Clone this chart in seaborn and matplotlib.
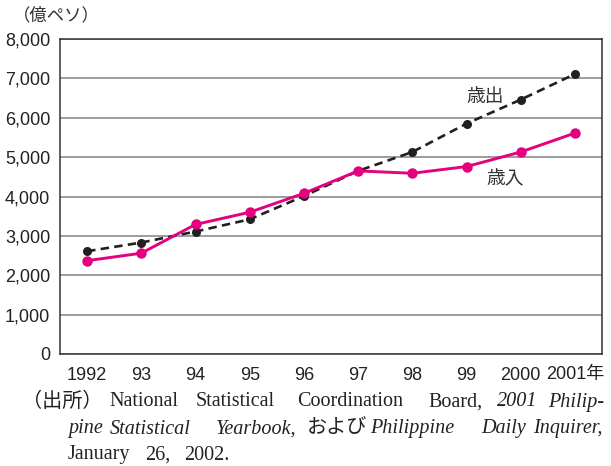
import numpy as np
import pandas as pd
import matplotlib.pyplot as plt
import seaborn as sns
from matplotlib.ticker import FixedLocator, FuncFormatter

# ── data (億ペソ) ────────────────────────────────────────────
years       = ['1992', '93', '94', '95', '96', '97', '98', '99', '2000', '2001年']
expenditure = [2610, 2830, 3110, 3420, 4010, 4650, 5130, 5850, 6460, 7110]   # 歳出
revenue     = [2370, 2560, 3290, 3600, 4080, 4650, 4590, 4760, 5130, 5610]   # 歳入
y_ticks     = [0, 1000, 2000, 3000, 4000, 5000, 6000, 7000, 8000]

sns.set_style('white')
plt.rcParams['font.family'] = ['Liberation Sans', 'Noto Sans CJK JP']

df = pd.DataFrame({'pos': np.arange(len(years)), 'exp': expenditure, 'rev': revenue})

fig = plt.figure(figsize=(6.11, 4.66), dpi=100)
ax = fig.add_axes([60/611, 112/466, 542/611, 315/466])

PINK  = '#E4007F'
BLACK = '#231F20'

ax.set_axisbelow(True)
ax.grid(axis='y', color='#8c8c8c', linewidth=1.2)

sns.lineplot(data=df, x='pos', y='exp', ax=ax, color=BLACK, linewidth=1.9,
             marker='o', markersize=6.5, markeredgewidth=0, zorder=3)
ax.lines[-1].set_dashes([3.2, 2.0])
sns.lineplot(data=df, x='pos', y='rev', ax=ax, color=PINK, linewidth=2.1,
             marker='o', markersize=7.5, markeredgewidth=0, zorder=4)

ax.set_xlim(-0.5, len(years) - 0.5)
ax.set_ylim(0, 8000)
ax.set_yticks(y_ticks)
ax.yaxis.set_major_formatter(FuncFormatter(lambda v, p: f'{int(v):,}'))
ax.set_xticks(df['pos'])
ax.set_xticklabels(years)
ax.xaxis.set_minor_locator(FixedLocator(np.arange(0.5, len(years) - 1, 1.0)))
ax.tick_params(axis='both', which='major', length=0, labelsize=13,
               labelcolor='#222222')
ax.tick_params(axis='y', pad=7)
ax.tick_params(axis='x', pad=9)
ax.tick_params(axis='x', which='minor', direction='in', length=7.5,
               width=1.0, color='#333333')
ax.set_xlabel('')
ax.set_ylabel('')
for s in ax.spines.values():
    s.set_visible(True)
    s.set_color('#333333')
    s.set_linewidth(1.1)

ax.text(7.34, 6550, '歳出', fontsize=13.5, color='#333333', ha='center', va='center',
        family=['Noto Sans CJK JP'])
ax.text(7.71, 4460, '歳入', fontsize=13.5, color='#333333', ha='center', va='center',
        family=['Noto Sans CJK JP'])

fig.text(13/611, 1 - 15/466, '（億ペソ）', fontsize=12.5, color='#333333',
         ha='left', va='center', family=['Noto Sans CJK JP'])

# ── source note ──────────────────────────────────────────────
serif = ['Liberation Serif', 'Noto Sans CJK JP']
fs = 14.5
def put(x, y, s, italic=False):
    fig.text(x/611, 1 - y/466, s, fontsize=fs, color='#222222', ha='left',
             va='center', family=serif, style='italic' if italic else 'normal')

put(22, 402, '（出所）')
for x, w in [(109, 'National'), (196, 'Statistical'), (297, 'Coordination'), (428, 'Board,')]:
    put(x, 402, w)
for x, w in [(497, '2001'), (548, 'Philip-')]:
    put(x, 402, w, italic=True)
for x, w in [(68, 'pine'), (110, 'Statistical'), (216, 'Yearbook,')]:
    put(x, 429, w, italic=True)
put(307, 429, 'および')
for x, w in [(370, 'Philippine'), (481, 'Daily'), (533, 'Inquirer,')]:
    put(x, 429, w, italic=True)
for x, w in [(68, 'January'), (145, '26,'), (184, '2002.')]:
    put(x, 455, w)

fig.savefig('out.png', dpi=100)
